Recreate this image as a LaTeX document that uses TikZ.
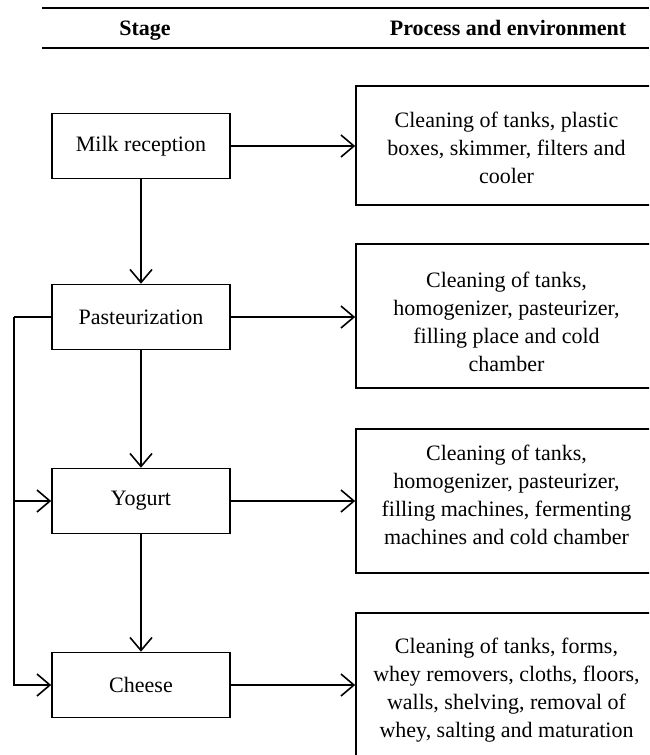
\documentclass[tikz,border=0pt]{standalone}
\usepackage{fontspec}
\setmainfont{Liberation Serif}
\usetikzlibrary{arrows.meta}
\begin{document}
\begin{tikzpicture}[x=1pt,y=-1pt,
  every node/.style={font=\fontsize{22}{28}\selectfont, inner sep=0pt},
  stagebox/.style={draw, line width=1.6pt, minimum width=178pt, minimum height=65pt},
  procbox/.style={draw, line width=1.6pt, minimum width=301pt},
  proctext/.style={align=center},
  header/.style={anchor=base, font=\fontsize{22}{28}\selectfont\bfseries},
  flow/.style={line width=1.6pt, -{Straight Barb[length=13pt, width=22pt, line width=1.6pt]}},
  link/.style={line width=1.6pt},
  rule/.style={line width=2.2pt}]
  \useasboundingbox (0,0) rectangle (649,755);
  \clip (0,0) rectangle (649,755);

  % table header
  \coordinate (ruleTL) at (42,8);
  \coordinate (ruleTR) at (649,8);
  \coordinate (ruleBL) at (42,48);
  \coordinate (ruleBR) at (649,48);
  \draw[rule] (ruleTL) -- (ruleTR);
  \draw[rule] (ruleBL) -- (ruleBR);
  \node[header] (hStage) at (145,35) {Stage};
  \node[header] (hProc) at (508,35) {Process and environment};

  % stages
  \node[stagebox] (milk)   at (141,146) {Milk reception};
  \node[stagebox] (past)   at (141,317) {Pasteurization};
  \node[stagebox] (yog)    at (141,501) {Yogurt};
  \node[stagebox] (cheese) at (141,685) {Cheese};

  % processes and environment
  \node[procbox, minimum height=119pt] (p1) at (506.5,145.5) {};
  \node[procbox, minimum height=144pt] (p2) at (506.5,316) {};
  \node[procbox, minimum height=144pt] (p3) at (506.5,501) {};
  \node[procbox, minimum height=144pt] (p4) at (506.5,685) {};
  \node[proctext] (t1) at (506.5,148)
    {Cleaning of tanks, plastic\\boxes, skimmer, filters and\\cooler};
  \node[proctext] (t2) at (506.5,322)
    {Cleaning of tanks,\\homogenizer, pasteurizer,\\filling place and cold\\chamber};
  \node[proctext] (t3) at (506.5,495)
    {Cleaning of tanks,\\homogenizer, pasteurizer,\\filling machines, fermenting\\machines and cold chamber};
  \node[proctext] (t4) at (506.5,690)
    {Cleaning of tanks, forms,\\whey removers, cloths, floors,\\walls, shelving, removal of\\whey, salting and maturation};

  % stage to process
  \draw[flow] (milk.east) -- (milk.east -| p1.west);
  \draw[flow] (past.east) -- (past.east -| p2.west);
  \draw[flow] (yog.east) -- (yog.east -| p3.west);
  \draw[flow] (cheese.east) -- (cheese.east -| p4.west);

  % stage sequence
  \draw[flow] (milk) -- (past);
  \draw[flow] (past) -- (yog);
  \draw[flow] (yog) -- (cheese);

  % bypass from pasteurization
  \coordinate (bus) at (14,317);
  \draw[link] (past.west) -- (bus);
  \draw[flow] (bus) |- (cheese.west);
  \draw[flow] (bus |- yog.west) -- (yog.west);
\end{tikzpicture}
\end{document}
